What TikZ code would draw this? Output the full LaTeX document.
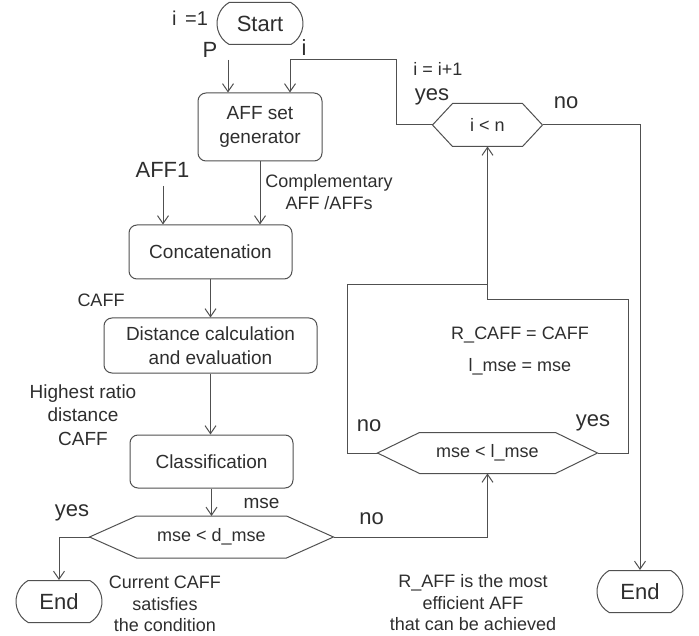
\documentclass[tikz,border=0pt]{standalone}
\usepackage{fontspec}
\setmainfont{Liberation Sans}
\usetikzlibrary{shapes.misc,arrows.meta}

\definecolor{linegray}{HTML}{505050}
\definecolor{textgray}{HTML}{2E2E2E}
\newcommand{\bigtxt}{\fontsize{22}{26}\selectfont}
\newcommand{\boxtxt}{\fontsize{19}{23.5}\selectfont}
\newcommand{\smalltxt}{\fontsize{18}{21.5}\selectfont}

\begin{document}
\begin{tikzpicture}[x=1pt,y=-1pt,
color=linegray, text=textgray, line width=1pt,
terminal/.style={rounded rectangle, rounded rectangle arc length=120, draw=linegray, minimum width=86pt, minimum height=42pt, inner sep=0pt, font=\bigtxt},
process/.style={rectangle, rounded corners=8pt, draw=linegray, align=center, inner sep=0pt, font=\boxtxt},
decision/.style 2 args={rectangle, minimum width=#1, minimum height=41pt, inner sep=0pt, font=\smalltxt,
  append after command={\pgfextra{\draw[linegray] ([xshift=#2]\tikzlastnode.north west) -- ([xshift=-#2]\tikzlastnode.north east) -- (\tikzlastnode.east) -- ([xshift=-#2]\tikzlastnode.south east) -- ([xshift=#2]\tikzlastnode.south west) -- (\tikzlastnode.west) -- cycle;}}},
tag_big/.style={font=\bigtxt, inner sep=0pt},
tag_small/.style={font=\smalltxt, inner sep=0pt, align=center},
flow/.style={-{Straight Barb[length=8pt,width=11pt]}}
]
\useasboundingbox (0,0) rectangle (699,636);

% main column
\node[terminal](start_node) at (260,23.5){Start};
\node[process, minimum width=124pt, minimum height=68pt](aff_gen) at (260,127){AFF set\\generator};
\node[process, minimum width=163pt, minimum height=54pt](concat) at (210.5,252){Concatenation};
\node[process, minimum width=213pt, minimum height=55pt](dist_eval) at (210.5,345.5){Distance calculation\\and evaluation};
\node[process, minimum width=163pt, minimum height=53pt](classif) at (211.5,461.5){Classification};
\node[decision={243pt}{47pt}](dec_dmse) at (211.5,537){mse {\textless} d\_mse};
\node[terminal](end_left) at (59,601.5){End};

% right side
\node[decision={109pt}{20pt}, minimum height=42pt](dec_n) at (487.5,125){i {\textless} n};
\node[decision={219pt}{42pt}, minimum height=40pt](dec_lmse) at (487.5,453){mse {\textless} l\_mse};
\node[terminal](end_right) at (640,591.5){End};

% labels
\node[tag_small, font=\fontsize{20}{24}\selectfont](i_init) at (190,18){i\hspace{3pt} =1};
\node[tag_big](p_lab) at (210,50){P};
\node[tag_big](i_lab) at (304,48){i};
\node[tag_small](i_inc) at (438,69){i = i+1};
\node[tag_big](yes_n) at (432,97){yes};
\node[tag_big](no_n) at (566,103){no};
\node[tag_big](aff1_lab) at (162.5,170){AFF1};
\node[tag_small](compl_lab) at (329,192){Complementary\\AFF /AFFs};
\node[tag_small](caff_lab) at (101,300){CAFF};
\node[tag_small, font=\boxtxt](ratio_lab) at (83,415){Highest ratio\\distance\\CAFF};
\node[tag_small, font=\boxtxt](mse_lab) at (261.5,503){mse};
\node[tag_big](yes_d) at (72,513){yes};
\node[tag_big](no_d) at (371.5,519){no};
\node[tag_small](current_lab) at (165,604){Current CAFF\\satisfies\\the condition};
\node[tag_small](raff_lab) at (473,603){R\_AFF is the most\\efficient AFF\\that can be achieved};
\node[tag_small](rcaff_lab) at (520,335){R\_CAFF = CAFF};
\node[tag_small](lmse_lab) at (520,367){l\_mse = mse};
\node[tag_big](no_l) at (369,426){no};
\node[tag_big](yes_l) at (593,423){yes};

% free ends and corners
\coordinate (p_in) at (228,60);
\coordinate (i_in) at (290,60);
\coordinate (loop_top) at (396,60);
\coordinate (aff1_in) at (163,186);
\coordinate (no_corner) at (347,285);
\coordinate (yes_corner) at (628,300);

% connectors
\draw[flow] (p_in) -- (p_in |- aff_gen.north);
\draw[flow] (dec_n.west) -| (loop_top) -- (i_in) -- (i_in |- aff_gen.north);
\draw[flow] (dec_n.east) -| (end_right.north);
\draw[flow] (aff_gen.south) -- (aff_gen.south |- concat.north);
\draw[flow] (aff1_in) -- (aff1_in |- concat.north);
\draw[flow] (concat.south) -- (concat.south |- dist_eval.north);
\draw[flow] (dist_eval.south) -- (dist_eval.south |- classif.north);
\draw[flow] (classif.south) -- (dec_dmse.north);
\draw[flow] (dec_dmse.west) -| (end_left.north);
\draw[flow] (dec_dmse.east) -| (dec_lmse.south);
\draw (dec_lmse.west) -| (no_corner) -- (no_corner -| dec_n.south);
\draw[flow] (dec_lmse.east) -| (yes_corner) -| (dec_n.south);
\end{tikzpicture}
\end{document}
